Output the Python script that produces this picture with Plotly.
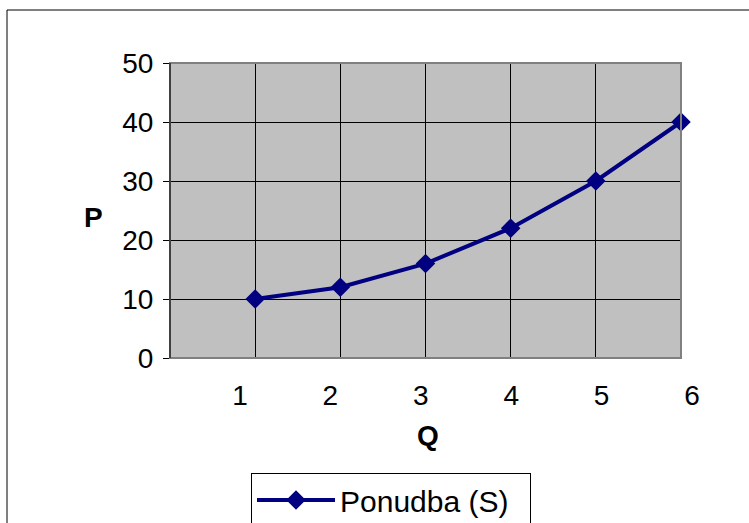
import plotly.graph_objects as go

Q = [1, 2, 3, 4, 5, 6]
P = [10, 12, 16, 22, 30, 40]
series_name = "Ponudba (S)"
x_tick_labels = ["1", "2", "3", "4", "5", "6"]
y_ticks = [0, 10, 20, 30, 40, 50]

W, H = 749, 523
L, R, T, B = 170, 30, 63, 165
PLOT_RIGHT = 681  # right edge of gray plot area (px)
pw, ph = W - L - R, H - T - B
dom_x = (PLOT_RIGHT - L) / pw

def px_x(p):
    return (p - L) / pw

def px_y(p):
    return (H - B - p) / ph

font = "Liberation Sans, Arial, sans-serif"
FS = 28

fig = go.Figure()
fig.add_trace(go.Scatter(
    x=Q, y=P, mode="lines+markers", name=series_name,
    line=dict(color="#000080", width=4),
    marker=dict(symbol="diamond", size=15, color="#000080"),
    cliponaxis=False,
))
# invisible trace carrying the (offset) category tick labels, as in the original
fig.add_trace(go.Scatter(x=Q, y=P, xaxis="x2", yaxis="y2", mode="markers",
                         marker=dict(opacity=0), showlegend=False, hoverinfo="skip"))

fig.update_layout(
    width=W, height=H,
    margin=dict(l=L, r=R, t=T, b=B, autoexpand=False),
    paper_bgcolor="white", plot_bgcolor="rgba(0,0,0,0)",
    font=dict(family=font, size=FS, color="black"),
    xaxis=dict(domain=[0, dom_x], range=[0, 6], tickvals=Q, showticklabels=False,
               ticks="", showgrid=True, gridcolor="black", gridwidth=1,
               zeroline=False, showline=False, automargin=False),
    xaxis2=dict(domain=[0, 1], anchor="y2", range=[0.2257, 6.299],
                tickvals=Q, ticktext=x_tick_labels, showgrid=False, zeroline=False,
                ticks="", showline=False, ticklabelstandoff=18, automargin=False,
                tickfont=dict(size=FS)),
    yaxis=dict(range=[0, 50], tickvals=y_ticks, ticks="outside", ticklen=6,
               tickcolor="black", showgrid=True, gridcolor="black", gridwidth=1,
               zeroline=False, showline=True, linecolor="black", linewidth=1,
               ticklabelstandoff=4, tickfont=dict(size=FS), automargin=False),
    yaxis2=dict(domain=[0, 1], anchor="x2", range=[0, 50], visible=False,
                showgrid=False, zeroline=False),
    showlegend=True,
    legend=dict(x=px_x(251), y=px_y(473), xanchor="left", yanchor="top",
                orientation="h",
                bordercolor="black", borderwidth=1, bgcolor="white",
                font=dict(size=30), itemwidth=78, entrywidth=185,
                entrywidthmode="pixels"),
)

# gray plot background
fig.add_shape(type="rect", xref="x domain", yref="y domain", x0=0, x1=1, y0=0, y1=1,
              fillcolor="#C0C0C0", line=dict(width=0), layer="below")
# plot area border (gray) on top/right/bottom
fig.add_shape(type="rect", xref="x domain", yref="y domain", x0=0, x1=1, y0=0, y1=1,
              line=dict(color="#808080", width=2), layer="above")
fig.add_shape(type="line", xref="x domain", yref="y domain", x0=0, x1=0, y0=0, y1=1,
              line=dict(color="black", width=1), layer="above")
# outer chart border
fig.add_shape(type="rect", xref="paper", yref="paper",
              x0=px_x(7), x1=px_x(780), y0=px_y(10), y1=px_y(560),
              line=dict(color="black", width=1), layer="below")

fig.add_annotation(text="<b>P</b>", xref="paper", yref="paper",
                   x=px_x(93), y=px_y(218), xanchor="center", yanchor="middle",
                   showarrow=False, font=dict(size=FS))
fig.add_annotation(text="<b>Q</b>", xref="paper", yref="paper",
                   x=px_x(428), y=px_y(435), xanchor="center", yanchor="middle",
                   showarrow=False, font=dict(size=FS))

fig.write_html("out.html", config={"displayModeBar": False},
               post_script="document.body.style.margin='0';document.body.style.overflow='hidden';")
